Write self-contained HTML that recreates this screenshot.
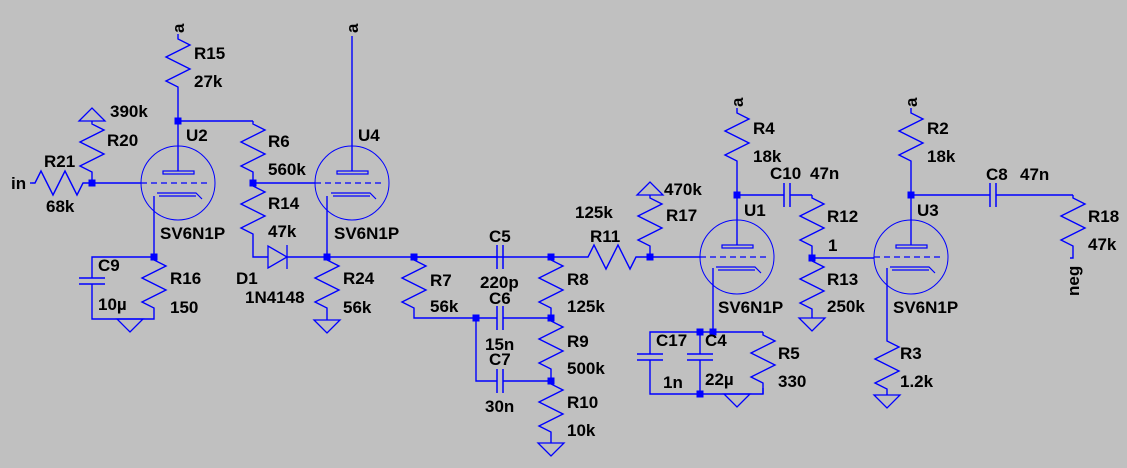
<!DOCTYPE html>
<html><head><meta charset="utf-8"><style>
html,body{margin:0;padding:0;background:#c0c0c0}
svg{display:block}
text{font-family:"Liberation Sans",Arial,sans-serif;font-weight:bold;font-size:17px;fill:#000}
</style></head><body>
<svg width="1127" height="468" viewBox="0 0 1127 468" xmlns="http://www.w3.org/2000/svg">
<defs>
<polyline id="rv" points="0,0 0,3 12,9 -12,21 12,33 -12,45 0,51 0,56" fill="none" stroke="#0000ff" stroke-width="1.4"/>
<polyline id="rh" points="0,0 3,0 9,-12 21,12 33,-12 45,12 51,0 56,0" fill="none" stroke="#0000ff" stroke-width="1.4"/>
<polygon id="gd" points="-13,0 13,0 0,13" fill="none" stroke="#0000ff" stroke-width="1.3"/>
<polygon id="gu" points="-13,0 13,0 0,-13" fill="none" stroke="#0000ff" stroke-width="1.3"/>
<g id="tube" fill="none" stroke="#0000ff">
<circle r="37" stroke-width="1"/>
<rect x="-15" y="-12" width="31" height="3" stroke-width="1.2"/>
<line x1="-37" y1="0" x2="30" y2="0" stroke-dasharray="6,4" stroke-width="1.2"/>
<path d="M-21,10 L18,10 L24,16 M-19,13 L18,13" stroke-width="1.2"/>
<line x1="0" y1="-12" x2="0" y2="-37" stroke-width="1.4"/>
</g>
<rect id="nd" x="-3.5" y="-3.5" width="7" height="7" fill="#0000ff"/>
<g id="ch" stroke="#0000ff" stroke-width="1.5"><line x1="-3" y1="-12" x2="-3" y2="12"/><line x1="3" y1="-12" x2="3" y2="12"/></g>
<g id="cv" stroke="#0000ff" stroke-width="1.5"><line x1="-13" y1="-3" x2="13" y2="-3"/><line x1="-13" y1="3" x2="13" y2="3"/></g>
</defs>

<g fill="none" stroke="#0000ff" stroke-width="1.4">
<polyline points="178,34 178,36"/>
<line x1="178" y1="92" x2="178" y2="146"/>
<polyline points="178,121 253,121"/>
<line x1="253" y1="177" x2="253" y2="183"/>
<line x1="92" y1="177" x2="92" y2="183"/>
<line x1="30" y1="183" x2="32" y2="183"/>
<line x1="88" y1="183" x2="141" y2="183"/>
<line x1="154" y1="196" x2="154" y2="257"/>
<polyline points="92,278 92,257 154,257"/>
<polyline points="92,284 92,319 154,319 154,313"/>
<line x1="253" y1="183" x2="315" y2="183"/>
<line x1="352" y1="36" x2="352" y2="146"/>
<polyline points="253,239 253,257 268,257"/>
<line x1="287" y1="257" x2="551" y2="257"/>
<line x1="327" y1="196" x2="327" y2="257"/>
<line x1="327" y1="313" x2="327" y2="320"/>
<polyline points="414,313 414,318 497,318"/>
<line x1="503" y1="318" x2="551" y2="318"/>
<polyline points="476,318 476,381 497,381"/>
<line x1="503" y1="381" x2="551" y2="381"/>
<line x1="551" y1="313" x2="551" y2="318"/>
<line x1="551" y1="374" x2="551" y2="381"/>
<line x1="551" y1="437" x2="551" y2="443"/>
<line x1="641" y1="257" x2="700" y2="257"/>
<line x1="650" y1="251" x2="650" y2="257"/>
<line x1="737" y1="108" x2="737" y2="110"/>
<line x1="737" y1="166" x2="737" y2="220"/>
<line x1="737" y1="195" x2="784" y2="195"/>
<polyline points="790,195 812,195"/>
<line x1="812" y1="251" x2="812" y2="258"/>
<line x1="812" y1="314" x2="812" y2="318"/>
<line x1="812" y1="258" x2="874" y2="258"/>
<line x1="713" y1="268" x2="713" y2="332"/>
<polyline points="650,354 650,332 763,332"/>
<polyline points="650,360 650,394 763,394 763,388"/>
<line x1="700" y1="332" x2="700" y2="354"/>
<line x1="700" y1="360" x2="700" y2="394"/>
<line x1="911" y1="108" x2="911" y2="110"/>
<line x1="911" y1="166" x2="911" y2="220"/>
<line x1="911" y1="195" x2="990" y2="195"/>
<polyline points="996,195 1073,195"/>
<polyline points="1073,251 1073,258 1070,258"/>
<line x1="887" y1="268" x2="887" y2="338"/>
<line x1="887" y1="394" x2="887" y2="395"/>
<line x1="763" y1="388" x2="763" y2="394"/>
<line x1="551" y1="257" x2="585" y2="257"/>
<line x1="414" y1="257" x2="497" y2="257"/>
</g>

<use href="#rv" x="178" y="36"/>
<use href="#rv" x="92" y="121"/>
<use href="#rh" x="32" y="183"/>
<use href="#rv" x="253" y="121"/>
<use href="#rv" x="253" y="183"/>
<use href="#rv" x="154" y="257"/>
<use href="#rv" x="327" y="257"/>
<use href="#rv" x="414" y="257"/>
<use href="#rv" x="551" y="257"/>
<use href="#rv" x="551" y="318"/>
<use href="#rv" x="551" y="381"/>
<use href="#rh" x="585" y="257"/>
<use href="#rv" x="650" y="195"/>
<use href="#rv" x="737" y="110"/>
<use href="#rv" x="763" y="332"/>
<use href="#rv" x="812" y="195"/>
<use href="#rv" x="812" y="258"/>
<use href="#rv" x="911" y="110"/>
<use href="#rv" x="1073" y="195"/>
<use href="#rv" x="887" y="338"/>

<use href="#cv" x="92" y="281"/>
<use href="#ch" x="500" y="257"/>
<use href="#ch" x="500" y="318"/>
<use href="#ch" x="500" y="381"/>
<use href="#ch" x="787" y="195"/>
<use href="#cv" x="650" y="357"/>
<use href="#cv" x="700" y="357"/>
<use href="#ch" x="993" y="195"/>

<g fill="none" stroke="#0000ff" stroke-width="1.3">
<polygon points="268,246 268,268 287,257"/>
<line x1="287" y1="245" x2="287" y2="269"/>
</g>

<use href="#gu" x="92" y="121"/>
<use href="#gd" x="130" y="319"/>
<use href="#gd" x="327" y="320"/>
<use href="#gd" x="551" y="443"/>
<use href="#gu" x="650" y="195"/>
<use href="#gd" x="737" y="394"/>
<use href="#gd" x="812" y="318"/>
<use href="#gd" x="887" y="395"/>

<use href="#tube" x="178" y="183"/>
<use href="#tube" x="352" y="183"/>
<use href="#tube" x="737" y="257"/>
<use href="#tube" x="911" y="257"/>

<use href="#nd" x="178" y="121"/><use href="#nd" x="92" y="183"/><use href="#nd" x="253" y="183"/>
<use href="#nd" x="154" y="257"/><use href="#nd" x="327" y="257"/><use href="#nd" x="414" y="257"/>
<use href="#nd" x="551" y="257"/><use href="#nd" x="650" y="257"/><use href="#nd" x="476" y="318"/>
<use href="#nd" x="551" y="318"/><use href="#nd" x="551" y="381"/><use href="#nd" x="737" y="195"/>
<use href="#nd" x="700" y="332"/><use href="#nd" x="713" y="332"/><use href="#nd" x="700" y="394"/>
<use href="#nd" x="812" y="258"/><use href="#nd" x="911" y="195"/>

<text x="184" y="33" transform="rotate(-90 184 33)">a</text>
<text x="358" y="33" transform="rotate(-90 358 33)">a</text>
<text x="743" y="107" transform="rotate(-90 743 107)">a</text>
<text x="917" y="107" transform="rotate(-90 917 107)">a</text>
<text x="1079" y="296" transform="rotate(-90 1079 296)">neg</text>
<text x="11" y="189">in</text>
<text x="194" y="59">R15</text><text x="194" y="87">27k</text>
<text x="110" y="117">390k</text><text x="107" y="146">R20</text>
<text x="44" y="167">R21</text><text x="46" y="212">68k</text>
<text x="186" y="141">U2</text><text x="160" y="239">SV6N1P</text>
<text x="268" y="147">R6</text><text x="268" y="175">560k</text>
<text x="268" y="209">R14</text><text x="268" y="237">47k</text>
<text x="358" y="141">U4</text><text x="334" y="239">SV6N1P</text>
<text x="98" y="271">C9</text><text x="98" y="310">10µ</text>
<text x="170" y="284">R16</text><text x="170" y="313">150</text>
<text x="236" y="284">D1</text><text x="245" y="303">1N4148</text>
<text x="343" y="284">R24</text><text x="343" y="313">56k</text>
<text x="489" y="242">C5</text><text x="480" y="288">220p</text>
<text x="489" y="304">C6</text><text x="485" y="350">15n</text>
<text x="489" y="365">C7</text><text x="485" y="412">30n</text>
<text x="430" y="286">R7</text><text x="430" y="312">56k</text>
<text x="567" y="285">R8</text><text x="567" y="312">125k</text>
<text x="567" y="347">R9</text><text x="567" y="374">500k</text>
<text x="567" y="408">R10</text><text x="567" y="436">10k</text>
<text x="575" y="218">125k</text><text x="590" y="242">R11</text>
<text x="664" y="195">470k</text><text x="666" y="221">R17</text>
<text x="744" y="216">U1</text><text x="718" y="313">SV6N1P</text>
<text x="656" y="346">C17</text><text x="705" y="346">C4</text>
<text x="663" y="388">1n</text><text x="705" y="385">22µ</text>
<text x="778" y="359">R5</text><text x="778" y="387">330</text>
<text x="753" y="134">R4</text><text x="753" y="162">18k</text>
<text x="770" y="179">C10</text><text x="810" y="179">47n</text>
<text x="827" y="222">R12</text><text x="828" y="251">1</text>
<text x="827" y="285">R13</text><text x="827" y="312">250k</text>
<text x="917" y="216">U3</text><text x="893" y="313">SV6N1P</text>
<text x="927" y="134">R2</text><text x="927" y="162">18k</text>
<text x="986" y="180">C8</text><text x="1020" y="180">47n</text>
<text x="1088" y="222">R18</text><text x="1088" y="250">47k</text>
<text x="900" y="359">R3</text><text x="900" y="387">1.2k</text>
</svg>
</body></html>
